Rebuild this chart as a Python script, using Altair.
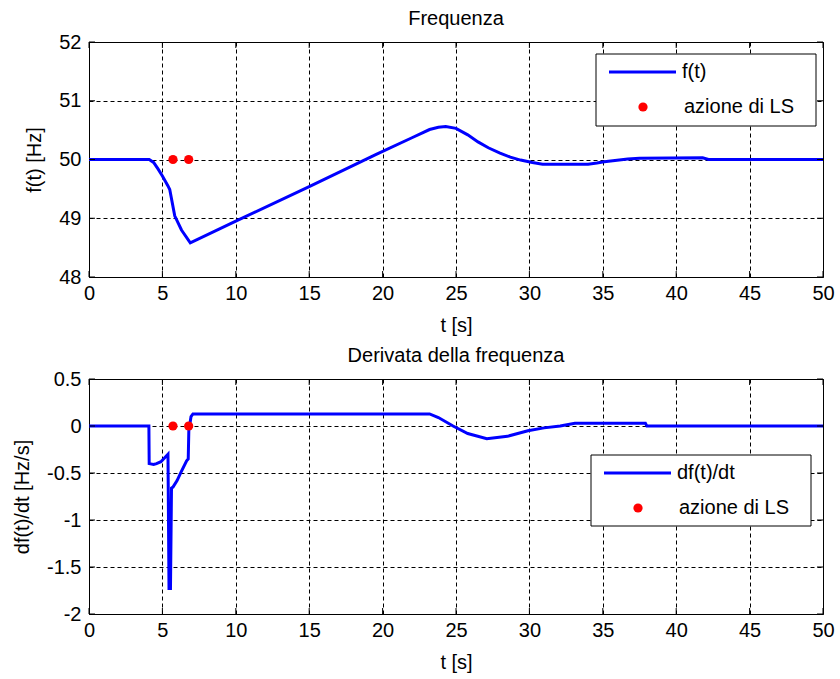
import altair as alt
import pandas as pd

# --- frequency f(t) [Hz] ---
t_f = [0, 4.1, 4.4, 4.7, 5.0, 5.38, 5.5, 5.84, 6.3, 6.9, 10.0, 15.0, 19.6, 22.0, 23.2,
       23.8, 24.3, 25.0, 25.8, 26.5, 27.2, 28.0, 28.7, 29.4, 30.2, 30.9, 34.0, 34.6,
       35.1, 36.7, 37.5, 41.8, 42.2, 50.0]
f_val = [50.0, 50.0, 49.95, 49.84, 49.72, 49.55, 49.49, 49.04, 48.80, 48.58, 48.95, 49.54,
         50.09, 50.37, 50.51, 50.55, 50.56, 50.53, 50.42, 50.30, 50.20, 50.11, 50.04, 49.99,
         49.95, 49.92, 49.92, 49.94, 49.96, 50.01, 50.02, 50.03, 50.0, 50.0]

# --- frequency derivative df(t)/dt [Hz/s] ---
t_d = [0, 4.08, 4.10, 4.40, 4.60, 4.90, 5.38, 5.45, 5.55, 5.62, 5.72, 6.00, 6.27, 6.65,
       6.76, 6.80, 6.95, 7.08, 23.2, 23.8, 24.8, 25.8, 27.1, 28.5, 29.9, 31.0, 32.1,
       33.1, 37.9, 38.0, 50.0]
d_val = [0.0, 0.0, -0.40, -0.41, -0.40, -0.38, -0.30, -1.73, -1.73, -0.66, -0.65, -0.58,
         -0.49, -0.37, -0.35, -0.05, 0.10, 0.128, 0.128, 0.09, 0.0, -0.08, -0.135, -0.11,
         -0.05, -0.02, 0.0, 0.03, 0.03, 0.0, 0.0]

# --- load shedding actions ---
ls_t = [5.72, 6.79]
ls_f = [50.0, 50.0]
ls_d = [0.0, 0.0]

x_ticks = [0, 5, 10, 15, 20, 25, 30, 35, 40, 45, 50]
f_ticks = [48, 49, 50, 51, 52]
d_ticks = [-2, -1.5, -1, -0.5, 0, 0.5]

W, H = 734, 235
FONT = "Liberation Sans"
FS = 20
BLUE = "#0000ff"
RED = "#ff0000"
PLAIN = "'' + datum.value"


def panel(t, y, lt, ly, yticks, ydomain, title, ytitle, leg_label, leg_box):
    xs = alt.Scale(domain=[0, 50], nice=False, zero=False)
    ys = alt.Scale(domain=ydomain, nice=False, zero=False)
    x_axis = alt.Axis(values=x_ticks, title="t [s]", grid=True, ticks=False, domain=False,
                      gridColor="black", gridDash=[4, 3], gridWidth=1, gridOpacity=1,
                      labelPadding=6, titlePadding=12, labelFlush=False, labelExpr=PLAIN)
    y_axis = alt.Axis(values=yticks, title=ytitle, grid=True, ticks=False, domain=False,
                      gridColor="black", gridDash=[4, 3], gridWidth=1, gridOpacity=1,
                      labelPadding=8, titlePadding=14, labelFlush=False, labelExpr=PLAIN)

    df = pd.DataFrame({"t": t, "y": y})
    line = alt.Chart(df).mark_line(color=BLUE, strokeWidth=3, clip=True).encode(
        x=alt.X("t:Q", scale=xs, axis=x_axis),
        y=alt.Y("y:Q", scale=ys, axis=y_axis),
    )
    pts = alt.Chart(pd.DataFrame({"t": lt, "y": ly})).mark_circle(
        color=RED, size=85, opacity=1).encode(
        x=alt.X("t:Q", scale=xs), y=alt.Y("y:Q", scale=ys))

    # inward tick marks on all four sides
    xt = pd.DataFrame({"v": x_ticks})
    yt = pd.DataFrame({"v": yticks})
    tk = dict(color="black", strokeWidth=1)
    tick_b = alt.Chart(xt).mark_rule(**tk).encode(
        x=alt.X("v:Q", scale=xs), y=alt.value(H), y2=alt.value(H - 6))
    tick_t = alt.Chart(xt).mark_rule(**tk).encode(
        x=alt.X("v:Q", scale=xs), y=alt.value(0), y2=alt.value(6))
    tick_l = alt.Chart(yt).mark_rule(**tk).encode(
        y=alt.Y("v:Q", scale=ys), x=alt.value(0), x2=alt.value(6))
    tick_r = alt.Chart(yt).mark_rule(**tk).encode(
        y=alt.Y("v:Q", scale=ys), x=alt.value(W), x2=alt.value(W - 6))

    # legend box
    bx0, by0, bx1, by1 = leg_box
    box = alt.Chart(pd.DataFrame({"k": [0]})).mark_rect(
        fill="white", stroke="black", strokeWidth=1).encode(
        x=alt.value(bx0), x2=alt.value(bx1), y=alt.value(by0), y2=alt.value(by1))
    row1 = by0 + 18
    row2 = by0 + 53
    sym = alt.Chart(pd.DataFrame({"k": [0]})).mark_rule(color=BLUE, strokeWidth=3).encode(
        x=alt.value(bx0 + 13), x2=alt.value(bx0 + 80), y=alt.value(row1))
    dot = alt.Chart(pd.DataFrame({"k": [0]})).mark_circle(color=RED, size=85, opacity=1).encode(
        x=alt.value(bx0 + 47), y=alt.value(row2))
    txt1 = alt.Chart(pd.DataFrame({"k": [0]})).mark_text(
        text=leg_label, align="left", baseline="middle", font=FONT, fontSize=FS,
        color="black").encode(x=alt.value(bx0 + 86), y=alt.value(row1))
    txt2 = alt.Chart(pd.DataFrame({"k": [0]})).mark_text(
        text="azione di LS", align="left", baseline="middle", font=FONT, fontSize=FS,
        color="black").encode(x=alt.value(bx0 + 88), y=alt.value(row2))

    return alt.layer(line, tick_b, tick_t, tick_l, tick_r, box, sym, dot, txt1, txt2, pts).properties(
        width=W, height=H,
        title=alt.TitleParams(title, font=FONT, fontSize=FS, fontWeight="normal",
                              color="black", offset=3),
    )


top = panel(t_f, f_val, ls_t, ls_f, f_ticks, [48, 52], "Frequenza", "f(t) [Hz]", "f(t)",
            (507, 12, 727, 84))
bottom = panel(t_d, d_val, ls_t, ls_d, d_ticks, [-2, 0.5], "Derivata della frequenza",
               "df(t)/dt [Hz/s]", "df(t)/dt", (502, 76, 722, 147))

chart = alt.vconcat(top, bottom, spacing=9).properties(
    padding={"left": 12, "top": 8, "right": 5, "bottom": 5},
    background="white",
).configure_view(stroke="black", strokeWidth=1).configure_axis(
    labelFont=FONT, labelFontSize=FS, labelColor="black",
    titleFont=FONT, titleFontSize=FS, titleFontWeight="normal", titleColor="black",
)

chart.save("out.html", embed_options={"renderer": "svg", "actions": False})
